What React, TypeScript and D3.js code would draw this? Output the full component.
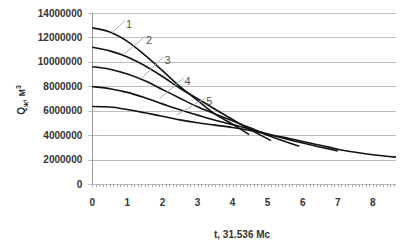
import React, { useEffect, useRef } from 'react';
import * as d3 from 'd3';

// t, 31.536 Mc  /  Q, m3 (millions)
const t1 = [0, 0.5, 1, 1.5, 2, 2.5, 3, 3.5, 4, 4.47];
const q1 = [12.78, 12.45, 11.68, 10.55, 9.28, 7.98, 6.85, 5.72, 4.9, 4.05];
const t2 = [0, 0.5, 1, 1.5, 2, 2.5, 3, 3.5, 4, 4.5, 5.1];
const q2 = [11.2, 10.9, 10.4, 9.68, 8.8, 7.84, 6.99, 6.12, 5.28, 4.45, 3.55];
const t3 = [0, 0.5, 1, 1.5, 2, 2.5, 3, 3.5, 4, 4.5, 5, 5.9];
const q3 = [9.6, 9.4, 9.0, 8.45, 7.74, 7.02, 6.32, 5.74, 5.17, 4.6, 4.0, 3.1];
const t4 = [0, 0.5, 1, 1.5, 2, 2.5, 3, 3.5, 4, 4.5, 5, 6, 7];
const q4 = [7.97, 7.8, 7.5, 7.06, 6.56, 6.07, 5.64, 5.22, 4.86, 4.5, 4.1, 3.35, 2.7];
const t5 = [0, 0.5, 1, 1.5, 2, 2.5, 3, 3.5, 4, 4.5, 5, 5.5, 6, 6.5, 7, 7.5, 8, 8.66];
const q5 = [6.34, 6.3, 6.1, 5.83, 5.54, 5.25, 5.01, 4.82, 4.62, 4.38, 4.08, 3.8, 3.48, 3.18, 2.85, 2.6, 2.4, 2.2];

const seriesNames = ['1', '2', '3', '4', '5'];
// leader lines: from point on curve to label (t, Q millions)
const leaderFromT = [0.55, 0.88, 1.41, 1.93, 2.41];
const leaderFromQ = [12.35, 10.57, 8.66, 7.02, 5.66];
const leaderToT = [0.93, 1.5, 2.03, 2.6, 3.22];
const leaderToQ = [13.38, 12.07, 10.43, 8.66, 7.02];

const yTicks = [0, 2000000, 4000000, 6000000, 8000000, 10000000, 12000000, 14000000];
const xTicks = [0, 1, 2, 3, 4, 5, 6, 7, 8];
const tMax = 8.66;

const App = () => {
  const svgRef = useRef<SVGSVGElement>(null);

  useEffect(() => {
    const width = 412;
    const height = 246;
    const left = 92.3;
    const right = 396;
    const top = 13;
    const bottom = 184;

    const x = d3.scaleLinear().domain([0, tMax]).range([left, right]);
    const y = d3.scaleLinear().domain([0, 14000000]).range([bottom, top]);

    const svg = d3.select(svgRef.current)
      .attr('width', width)
      .attr('height', height)
      .attr('viewBox', [0, 0, width, height]);
    svg.selectAll('*').remove();

    svg.append('rect').attr('width', width).attr('height', height).attr('fill', '#fff');

    // gridlines + y ticks
    const gy = svg.append('g');
    gy.selectAll('line')
      .data(yTicks)
      .join('line')
      .attr('x1', left - 4)
      .attr('x2', right)
      .attr('y1', (d) => Math.round(y(d)) + 0.5)
      .attr('y2', (d) => Math.round(y(d)) + 0.5)
      .attr('stroke', '#bdbdbd')
      .attr('stroke-width', 1);
    gy.selectAll('text')
      .data(yTicks)
      .join('text')
      .attr('x', left - 10)
      .attr('y', (d) => y(d))
      .attr('dy', '0.35em')
      .attr('text-anchor', 'end')
      .attr('font-family', 'Liberation Sans, Arial, sans-serif')
      .attr('font-size', 10)
      .attr('font-weight', 'bold')
      .attr('fill', '#333')
      .text((d) => String(d));

    // y axis line
    svg.append('line')
      .attr('x1', Math.round(left) + 0.5).attr('x2', Math.round(left) + 0.5)
      .attr('y1', top).attr('y2', bottom)
      .attr('stroke', '#999');

    // x minor ticks every 0.1
    const minor = d3.range(0, tMax + 0.001, 0.1);
    svg.append('g').selectAll('line')
      .data(minor)
      .join('line')
      .attr('x1', (d) => Math.round(x(d)) + 0.5)
      .attr('x2', (d) => Math.round(x(d)) + 0.5)
      .attr('y1', bottom)
      .attr('y2', bottom + 3)
      .attr('stroke', '#aaa');

    svg.append('g').selectAll('text')
      .data(xTicks)
      .join('text')
      .attr('x', (d) => x(d))
      .attr('y', 202)
      .attr('dy', '0.35em')
      .attr('text-anchor', 'middle')
      .attr('font-family', 'Liberation Sans, Arial, sans-serif')
      .attr('font-size', 10)
      .attr('font-weight', 'bold')
      .attr('fill', '#333')
      .text((d) => String(d));

    // axis titles
    svg.append('text')
      .attr('x', 242)
      .attr('y', 234)
      .attr('dy', '0.35em')
      .attr('text-anchor', 'middle')
      .attr('font-family', 'Liberation Sans, Arial, sans-serif')
      .attr('font-size', 10)
      .attr('font-weight', 'bold')
      .attr('fill', '#333')
      .text('t, 31.536 Мс');

    const yt = svg.append('text')
      .attr('transform', 'translate(21,100) rotate(-90)')
      .attr('dy', '0.35em')
      .attr('text-anchor', 'middle')
      .attr('font-family', 'Liberation Sans, Arial, sans-serif')
      .attr('font-size', 10)
      .attr('font-weight', 'bold')
      .attr('fill', '#333');
    yt.append('tspan').text('Q');
    yt.append('tspan').attr('font-size', 7).attr('dy', 3).text('ж');
    yt.append('tspan').attr('dy', -3).text(', м');
    yt.append('tspan').attr('font-size', 7).attr('dy', -4).text('3');

    // curves
    const ts = [t1, t2, t3, t4, t5];
    const qs = [q1, q2, q3, q4, q5];
    const line = d3.line<[number, number]>()
      .x((d) => x(d[0]))
      .y((d) => y(d[1] * 1e6))
      .curve(d3.curveMonotoneX);
    svg.append('g').selectAll('path')
      .data(ts.map((t, i) => t.map((v, j) => [v, qs[i][j]] as [number, number])))
      .join('path')
      .attr('d', (d) => line(d))
      .attr('fill', 'none')
      .attr('stroke', '#111')
      .attr('stroke-width', 1.6);

    // leader lines and labels
    const lab = svg.append('g');
    seriesNames.forEach((name, i) => {
      lab.append('line')
        .attr('x1', x(leaderFromT[i]))
        .attr('y1', y(leaderFromQ[i] * 1e6))
        .attr('x2', x(leaderToT[i]))
        .attr('y2', y(leaderToQ[i] * 1e6))
        .attr('stroke', '#9fb3c8')
        .attr('stroke-width', 1);
      lab.append('text')
        .attr('x', x(leaderToT[i]) + 1)
        .attr('y', y(leaderToQ[i] * 1e6) + 7)
        .attr('font-family', 'Liberation Sans, Arial, sans-serif')
        .attr('font-size', 11)
        .attr('fill', '#555')
        .text(name);
    });
  }, []);

  return (
    <svg ref={svgRef} style={{ position: 'absolute', left: 0, top: 0 }}></svg>
  );
};

export default App;
